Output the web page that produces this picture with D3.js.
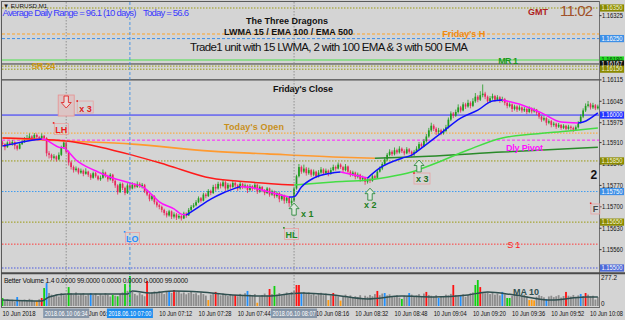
<!DOCTYPE html>
<html><head><meta charset="utf-8">
<script src="https://cdn.jsdelivr.net/npm/d3@7/dist/d3.min.js"></script>
<style>body{margin:0;background:#d4d4d4}svg{display:block}text{font-family:"Liberation Sans",Arial,sans-serif}</style>
</head><body><svg id="c" width="625" height="320"></svg>
<script>
// ---------- DATA ----------
const barOpen = [1.15910,1.15905,1.15895,1.15910,1.15905,1.15912,1.15900,1.15890,1.15905,1.15912,
1.15920,1.15925,1.15930,1.15925,1.15935,1.15928,1.15925,1.15932,1.15925,1.15875,
1.15870,1.15860,1.15865,1.15855,1.15870,1.15895,1.15910,1.15880,1.15845,1.15830,
1.15820,1.15825,1.15812,1.15818,1.15808,1.15815,1.15805,1.15795,1.15810,1.15800,
1.15790,1.15795,1.15812,1.15800,1.15790,1.15805,1.15785,1.15770,1.15748,1.15775,
1.15762,1.15745,1.15770,1.15760,1.15772,1.15765,1.15775,1.15768,1.15772,1.15750,
1.15740,1.15725,1.15735,1.15715,1.15705,1.15700,1.15690,1.15680,1.15672,1.15685,
1.15668,1.15675,1.15665,1.15670,1.15662,1.15678,1.15672,1.15690,1.15700,1.15705,
1.15715,1.15728,1.15720,1.15740,1.15735,1.15752,1.15745,1.15765,1.15760,1.15775,
1.15768,1.15780,1.15760,1.15772,1.15765,1.15778,1.15770,1.15760,1.15775,1.15765,
1.15770,1.15755,1.15768,1.15760,1.15772,1.15750,1.15765,1.15755,1.15745,1.15760,
1.15740,1.15750,1.15735,1.15745,1.15725,1.15738,1.15720,1.15730,1.15712,1.15720,
1.15760,1.15800,1.15830,1.15815,1.15825,1.15810,1.15820,1.15805,1.15815,1.15800,
1.15812,1.15822,1.15810,1.15818,1.15808,1.15820,1.15830,1.15825,1.15838,1.15830,
1.15820,1.15832,1.15815,1.15805,1.15812,1.15798,1.15805,1.15790,1.15795,1.15782,
1.15790,1.15785,1.15800,1.15795,1.15815,1.15825,1.15840,1.15855,1.15870,1.15880,
1.15872,1.15885,1.15878,1.15890,1.15882,1.15875,1.15888,1.15880,1.15872,1.15880,
1.15890,1.15905,1.15898,1.15915,1.15930,1.15950,1.15965,1.15955,1.15945,1.15950,
1.15940,1.15948,1.15960,1.15985,1.16005,1.15998,1.16010,1.16025,1.16015,1.16035,
1.16028,1.16040,1.16030,1.16045,1.16060,1.16050,1.16065,1.16070,1.16060,1.16045,
1.16055,1.16062,1.16050,1.16058,1.16048,1.16052,1.16040,1.16030,1.16035,1.16020,
1.16028,1.16018,1.16025,1.16015,1.16020,1.16010,1.16022,1.16012,1.16018,1.16008,
1.15995,1.15985,1.15990,1.15975,1.15980,1.15968,1.15972,1.15962,1.15968,1.15958,
1.15965,1.15955,1.15962,1.15958,1.15952,1.15960,1.15975,1.15995,1.16015,1.16030,
1.16035,1.16025,1.16032,1.16022];
const barHigh = [1.15915,1.15908,1.15914,1.15916,1.15918,1.15914,1.15903,1.15909,1.15918,1.15928,
1.15935,1.15940,1.15934,1.15941,1.15940,1.15932,1.15940,1.15935,1.15928,1.15882,
1.15874,1.15872,1.15868,1.15878,1.15900,1.15915,1.15912,1.15884,1.15850,1.15835,
1.15832,1.15828,1.15825,1.15822,1.15826,1.15818,1.15810,1.15815,1.15814,1.15804,
1.15802,1.15822,1.15815,1.15805,1.15810,1.15808,1.15790,1.15774,1.15780,1.15779,
1.15766,1.15777,1.15774,1.15780,1.15778,1.15783,1.15780,1.15778,1.15775,1.15755,
1.15744,1.15740,1.15738,1.15720,1.15710,1.15704,1.15694,1.15686,1.15690,1.15688,
1.15682,1.15680,1.15676,1.15674,1.15684,1.15682,1.15696,1.15706,1.15712,1.15722,
1.15734,1.15732,1.15746,1.15745,1.15758,1.15756,1.15772,1.15775,1.15782,1.15780,
1.15788,1.15784,1.15778,1.15776,1.15785,1.15782,1.15774,1.15782,1.15778,1.15776,
1.15773,1.15774,1.15771,1.15778,1.15775,1.15770,1.15768,1.15758,1.15765,1.15763,
1.15756,1.15753,1.15750,1.15748,1.15742,1.15740,1.15735,1.15733,1.15730,1.15765,
1.15805,1.15840,1.15835,1.15838,1.15830,1.15828,1.15824,1.15822,1.15818,1.15820,
1.15830,1.15826,1.15825,1.15822,1.15828,1.15838,1.15835,1.15845,1.15842,1.15834,
1.15840,1.15835,1.15820,1.15818,1.15815,1.15812,1.15808,1.15802,1.15798,1.15796,
1.15795,1.15806,1.15805,1.15820,1.15832,1.15846,1.15862,1.15876,1.15888,1.15885,
1.15894,1.15890,1.15898,1.15894,1.15888,1.15895,1.15892,1.15884,1.15886,1.15898,
1.15912,1.15910,1.15922,1.15938,1.15958,1.15975,1.15970,1.15960,1.15958,1.15955,
1.15956,1.15968,1.15992,1.16012,1.16010,1.16018,1.16035,1.16030,1.16042,1.16040,
1.16050,1.16045,1.16055,1.16072,1.16065,1.16078,1.16100,1.16076,1.16064,1.16062,
1.16070,1.16066,1.16065,1.16062,1.16060,1.16056,1.16044,1.16042,1.16038,1.16034,
1.16032,1.16032,1.16028,1.16026,1.16024,1.16028,1.16025,1.16024,1.16020,1.16010,
1.15998,1.15996,1.15993,1.15986,1.15984,1.15978,1.15975,1.15974,1.15970,1.15970,
1.15968,1.15968,1.15966,1.15962,1.15966,1.15980,1.16002,1.16022,1.16038,1.16046,
1.16040,1.16040,1.16036,1.16034];
const barLow = [1.15898,1.15885,1.15893,1.15902,1.15900,1.15888,1.15884,1.15888,1.15902,1.15909,
1.15916,1.15922,1.15918,1.15922,1.15924,1.15918,1.15921,1.15918,1.15865,1.15858,
1.15852,1.15855,1.15848,1.15852,1.15866,1.15890,1.15874,1.15835,1.15822,1.15812,
1.15815,1.15806,1.15808,1.15800,1.15805,1.15798,1.15788,1.15792,1.15795,1.15786,
1.15785,1.15792,1.15795,1.15782,1.15786,1.15778,1.15762,1.15740,1.15745,1.15755,
1.15738,1.15742,1.15752,1.15757,1.15760,1.15762,1.15762,1.15760,1.15745,1.15735,
1.15718,1.15720,1.15708,1.15698,1.15692,1.15682,1.15672,1.15665,1.15668,1.15660,
1.15662,1.15657,1.15660,1.15655,1.15660,1.15664,1.15670,1.15686,1.15696,1.15702,
1.15712,1.15714,1.15718,1.15728,1.15732,1.15738,1.15742,1.15752,1.15756,1.15760,
1.15764,1.15752,1.15755,1.15758,1.15762,1.15762,1.15752,1.15756,1.15758,1.15760,
1.15745,1.15750,1.15752,1.15756,1.15742,1.15746,1.15748,1.15738,1.15742,1.15733,
1.15736,1.15728,1.15730,1.15715,1.15720,1.15710,1.15712,1.15700,1.15705,1.15716,
1.15756,1.15796,1.15808,1.15810,1.15802,1.15805,1.15798,1.15800,1.15794,1.15796,
1.15808,1.15804,1.15806,1.15800,1.15805,1.15816,1.15818,1.15822,1.15824,1.15814,
1.15816,1.15808,1.15798,1.15800,1.15790,1.15793,1.15782,1.15784,1.15772,1.15776,
1.15778,1.15782,1.15788,1.15792,1.15812,1.15820,1.15836,1.15850,1.15865,1.15866,
1.15868,1.15872,1.15874,1.15876,1.15868,1.15872,1.15874,1.15862,1.15866,1.15876,
1.15886,1.15892,1.15895,1.15910,1.15926,1.15945,1.15948,1.15935,1.15938,1.15934,
1.15936,1.15944,1.15956,1.15980,1.15990,1.15994,1.16005,1.16008,1.16012,1.16020,
1.16024,1.16022,1.16026,1.16040,1.16042,1.16046,1.16058,1.16052,1.16036,1.16040,
1.16050,1.16044,1.16046,1.16040,1.16042,1.16032,1.16022,1.16025,1.16010,1.16015,
1.16010,1.16014,1.16008,1.16010,1.16003,1.16006,1.16005,1.16008,1.16000,1.15988,
1.15978,1.15980,1.15966,1.15970,1.15960,1.15962,1.15955,1.15958,1.15952,1.15954,
1.15950,1.15952,1.15951,1.15945,1.15948,1.15956,1.15972,1.15990,1.16010,1.16025,
1.16018,1.16020,1.16016,1.16018];
const barClose = [1.15905,1.15895,1.15910,1.15905,1.15912,1.15900,1.15890,1.15905,1.15912,1.15920,
1.15925,1.15930,1.15925,1.15935,1.15928,1.15925,1.15932,1.15925,1.15875,1.15870,
1.15860,1.15865,1.15855,1.15870,1.15895,1.15910,1.15880,1.15845,1.15830,1.15820,
1.15825,1.15812,1.15818,1.15808,1.15815,1.15805,1.15795,1.15810,1.15800,1.15790,
1.15795,1.15812,1.15800,1.15790,1.15805,1.15785,1.15770,1.15748,1.15775,1.15762,
1.15745,1.15770,1.15760,1.15772,1.15765,1.15775,1.15768,1.15772,1.15750,1.15740,
1.15725,1.15735,1.15715,1.15705,1.15700,1.15690,1.15680,1.15672,1.15685,1.15668,
1.15675,1.15665,1.15670,1.15662,1.15678,1.15672,1.15690,1.15700,1.15705,1.15715,
1.15728,1.15720,1.15740,1.15735,1.15752,1.15745,1.15765,1.15760,1.15775,1.15768,
1.15780,1.15760,1.15772,1.15765,1.15778,1.15770,1.15760,1.15775,1.15765,1.15770,
1.15755,1.15768,1.15760,1.15772,1.15750,1.15765,1.15755,1.15745,1.15760,1.15740,
1.15750,1.15735,1.15745,1.15725,1.15738,1.15720,1.15730,1.15712,1.15720,1.15760,
1.15800,1.15830,1.15815,1.15825,1.15810,1.15820,1.15805,1.15815,1.15800,1.15812,
1.15822,1.15810,1.15818,1.15808,1.15820,1.15830,1.15825,1.15838,1.15830,1.15820,
1.15832,1.15815,1.15805,1.15812,1.15798,1.15805,1.15790,1.15795,1.15782,1.15790,
1.15785,1.15800,1.15795,1.15815,1.15825,1.15840,1.15855,1.15870,1.15880,1.15872,
1.15885,1.15878,1.15890,1.15882,1.15875,1.15888,1.15880,1.15872,1.15880,1.15890,
1.15905,1.15898,1.15915,1.15930,1.15950,1.15965,1.15955,1.15945,1.15950,1.15940,
1.15948,1.15960,1.15985,1.16005,1.15998,1.16010,1.16025,1.16015,1.16035,1.16028,
1.16040,1.16030,1.16045,1.16060,1.16050,1.16065,1.16070,1.16060,1.16045,1.16055,
1.16062,1.16050,1.16058,1.16048,1.16052,1.16040,1.16030,1.16035,1.16020,1.16028,
1.16018,1.16025,1.16015,1.16020,1.16010,1.16022,1.16012,1.16018,1.16008,1.15995,
1.15985,1.15990,1.15975,1.15980,1.15968,1.15972,1.15962,1.15968,1.15958,1.15965,
1.15955,1.15962,1.15958,1.15952,1.15960,1.15975,1.15995,1.16015,1.16030,1.16035,
1.16025,1.16032,1.16022,1.16028];

const volume = [74,50,62,45,58,40,83,55,48,60,52,66,58,44,45,62,
74,166,212,120,
105,96,110,88,120,100,115,175,118,105,
126,98,112,120,95,108,120,102,115,92,
110,98,120,105,88,102,95,90,112,125,
203,140,277.2,130,112,98,120,105,90,231,
118,128,135,120,138,125,110,132,139,120,
148,128,135,115,125,108,120,130,112,118,
100,125,110,96,55,105,118,130,110,98,
115,105,92,108,100,102,90,112,95,118,
139,105,96,110,30,88,102,115,95,157,
110,185,105,120,98,112,125,108,130,140,
194,194,120,130,112,125,105,118,96,110,
122,100,115,55,98,120,95,88,50,92,
105,80,98,75,90,82,100,70,95,85,
102,90,110,139,100,115,120,98,108,92,
85,100,78,65,95,88,120,105,92,98,
110,90,115,130,102,95,88,100,74,92,
85,105,98,112,194,102,90,92,108,85,
100,118,125,194,240,175,130,118,125,110,
122,105,115,98,130,108,74,74,95,110,
102,88,96,105,90,55,58,52,85,100,
92,80,65,88,95,82,90,100,78,92,
130,95,88,102,85,98,111,92,120,105,
88,95,60,82];
const volRedBars = [16,59,70,87,95,109,120,121,135,153,173,184,195,230,238];
const volBlueBars = [6,18,36,68,100,122,156,166,178,187,204,222,236];
const volGreenBars = [0,17,27,45,47,50,52,111,163,193,194,206,207];
const volOrangeBars = [14,84,104,133,138,215,216,217];
const volMaBars = [0,16,19,26,40,51,53,60,70,81,94,108,122,135,149,163,176,190,198,209,224,238,243];
const volMaValues = [55,46,83,111,111,111,139,120,139,129,102,92,120,102,65,92,83,102,129,102,55,83,83];

const lwmaBars = [0,4,8,12,16,18,20,23,25,27,30,33,39,45,52,58,61,64,70,73,75,80,85,90,97,101,109,117,119,122,127,134,138,149,154,163,167,171,179,187,194,200,204,212,220,228,235,237,243];
const lwmaValues = [1.15899,1.15905,1.15912,1.15918,1.15922,1.15918,1.15908,1.15895,1.15893,1.15879,
1.15853,1.15837,1.15814,1.15794,1.15778,1.15761,1.15739,1.15716,1.15693,1.15676,
1.15673,1.15699,1.15725,1.15745,1.15766,1.15764,1.15748,1.15732,1.15733,1.15765,
1.15794,1.15810,1.15814,1.15794,1.15827,1.15859,1.15869,1.15892,1.15941,1.15990,
1.16016,1.16046,1.16049,1.16033,1.16007,1.15977,1.15974,1.15977,1.16007];
const ema100Bars = [0,26,40,53,67,85,101,119,135,149,157,167,176,190,204,217,231,243];
const ema100Values = [1.15925,1.15915,1.15895,1.15869,1.15837,1.15794,1.15781,1.15771,1.15781,1.15788,1.15797,1.15814,1.15840,1.15886,1.15925,1.15938,1.15948,1.15958];
const ema500Bars = [0,26,53,85,108,135,152,167,204,243];
const ema500Values = [1.15925,1.15915,1.15905,1.15882,1.15873,1.15863,1.15859,1.15863,1.15879,1.15895];

const levelNames = ["Top","Friday's H","Blue 1.16250","MR 1","Line 1.16167","SR-24","Olive 1.16150","Friday's Close","Blue 1.16000","Today's Open","Dly Pivot","Olive 1.15850","Blue 1.15750","Olive 1.15650","S 1","Blue 1.15500"];
const levelPrices = [1.16350,1.16265,1.16250,1.16180,1.16167,1.16160,1.16150,1.16115,1.16000,1.15941,1.15918,1.15850,1.15750,1.15650,1.15578,1.15500];

const priceTicks = [1.16325,1.16115,1.16045,1.15975,1.15910,1.15840,1.15770,1.15700,1.15630,1.15560];
const priceBoxes = [1.16350,1.16250,1.16180,1.16167,1.16150,1.16000,1.15850,1.15750,1.15650,1.15500];

const timeLabelBars = [0,32,64,80,96,128,144,160,176,192,208,224,240];
const timeLabels = ["10 Jun 2018","10 Jun 06:40","10 Jun 07:12","10 Jun 07:28","10 Jun 07:44","10 Jun 08:16","10 Jun 08:32","10 Jun 08:48","10 Jun 09:04","10 Jun 09:20","10 Jun 09:36","10 Jun 09:52","10 Jun 10:08"];
const vLineBars = [26,52,119];
const vLineLabels = ["2018.06.10 06:34","2018.06.10 07:00","2018.06.10 08:07"];

const signalBars = [26,119,150,170];
const signalPrices = [1.16023,1.15712,1.15761,1.15853];
const signalTexts = ["x 3","x 1","x 2","x 3"];
const swingTexts = ["LH","LO","HL"];
const swingBars = [24,53,118];
const swingPrices = [1.15954,1.15598,1.15611];

// ---------- SCALES ----------
const svg = d3.select("#c");
const x = d3.scaleLinear().domain([0,243]).range([2.5, 2.5+243*2.45]);
const y = d3.scaleLinear().domain([1.15500,1.16350]).range([268,8]);
const yv = d3.scaleLinear().domain([0,277.2]).range([306,276]);
const fmt = d3.format(".5f");

svg.append("rect").attr("width",625).attr("height",320).attr("fill","#d4d4d4");
const defs = svg.append("defs");
defs.append("clipPath").attr("id","cm").append("rect").attr("x",2).attr("y",2).attr("width",597).attr("height",270);
defs.append("clipPath").attr("id","cv").append("rect").attr("x",2).attr("y",274.5).attr("width",597).attr("height",33);

const gm = svg.append("g").attr("clip-path","url(#cm)");
const gv = svg.append("g").attr("clip-path","url(#cv)");

// vertical object lines
const vStyle = [{c:"#8a8a8a",d:"1.5,1.5"},{c:"#3d8fe6",d:"3,2"},{c:"#8a8a8a",d:"1.5,1.5"}];
vLineBars.forEach((b,i)=>{
  svg.append("line").attr("x1",x(b)).attr("x2",x(b)).attr("y1",2).attr("y2",307)
    .attr("stroke",vStyle[i].c).attr("stroke-dasharray",vStyle[i].d).attr("stroke-width",0.9);
});

// horizontal levels
const olive = {c:"#9a9a10",d:"1.5,1.5",w:1};
const lvlStyle = {
  "Top":olive,
  "Friday's H":{c:"#ffa326",d:"3,2",w:1},
  "Blue 1.16250":{c:"#3d8fe6",d:"3,2",w:1},
  "MR 1":{c:"#78dc78",d:null,w:1.6},
  "Line 1.16167":{c:"#3a3a3a",d:null,w:1},
  "SR-24":olive,
  "Olive 1.16150":olive,
  "Friday's Close":{c:"#2a2a2a",d:null,w:1},
  "Blue 1.16000":{c:"#2b2bff",d:null,w:1},
  "Today's Open":{c:"#ffa326",d:"1.5,1.5",w:1},
  "Dly Pivot":{c:"#ff20ff",d:"3,2",w:1},
  "Olive 1.15850":olive,
  "Blue 1.15750":{c:"#3d9cf0",d:"1.5,1.5",w:1},
  "Olive 1.15650":olive,
  "S 1":{c:"#ff3a3a",d:"1.5,1.5",w:1},
  "Blue 1.15500":{c:"#4a5ae0",d:"1.5,1.5",w:1}
};
levelNames.forEach((n,i)=>{
  const s = lvlStyle[n];
  gm.append("line").attr("x1",2).attr("x2",599).attr("y1",y(levelPrices[i])).attr("y2",y(levelPrices[i]))
    .attr("stroke",s.c).attr("stroke-width",s.w).attr("stroke-dasharray",s.d);
});

// candles
const cg = gm.append("g");
barClose.forEach((c,i)=>{
  const o = barOpen[i], up = c >= o;
  const col = up ? "#1f9c1f" : "#e8285c";
  cg.append("line").attr("x1",x(i)).attr("x2",x(i)).attr("y1",y(barHigh[i])).attr("y2",y(barLow[i]))
    .attr("stroke",col).attr("stroke-width",0.8);
  const top = y(Math.max(o,c)), bot = y(Math.min(o,c));
  cg.append("rect").attr("x",x(i)-0.85).attr("width",1.7).attr("y",top).attr("height",Math.max(0.8,bot-top)).attr("fill",col);
});

// moving averages coloured by direction
function colouredLine(g, bars, vals, upC, dnC, w, ys){
  const runs=[]; let cur=null;
  for(let i=0;i<bars.length-1;i++){
    const c = vals[i+1] >= vals[i] ? upC : dnC;
    if(!cur || cur.c!==c){cur={c:c,p:[[bars[i],vals[i]]]};runs.push(cur);}
    cur.p.push([bars[i+1],vals[i+1]]);
  }
  const ln = d3.line().x(d=>x(d[0])).y(d=>ys(d[1])).curve(d3.curveMonotoneX);
  runs.forEach(r=>g.append("path").attr("d",ln(r.p)).attr("fill","none").attr("stroke",r.c).attr("stroke-width",w).attr("stroke-linejoin","round"));
}
colouredLine(gm, ema500Bars, ema500Values, "#2a8a2a", "#ff9a30", 1.6, y);
colouredLine(gm, ema100Bars, ema100Values, "#44dd44", "#ff1a1a", 1.5, y);
colouredLine(gm, lwmaBars, lwmaValues, "#1010ff", "#ff10ff", 1.5, y);

// volume
const vColor = volume.map(()=> "#8c8c8c");
volRedBars.forEach(b=>vColor[b]="#ff1010");
volBlueBars.forEach(b=>vColor[b]="#2090ff");
volGreenBars.forEach(b=>vColor[b]="#10d010");
volOrangeBars.forEach(b=>vColor[b]="#ff9a10");
volume.forEach((v,i)=>{
  gv.append("rect").attr("x",x(i)-0.9).attr("width",1.8).attr("y",yv(v)).attr("height",yv(0)-yv(v)).attr("fill",vColor[i]);
});
gv.append("path").attr("d",d3.line().x((d,i)=>x(volMaBars[i])).y(d=>yv(d)).curve(d3.curveMonotoneX)(volMaValues))
  .attr("fill","none").attr("stroke","#2f4f4f").attr("stroke-width",1.5);

// frame
const fr = svg.append("g").attr("stroke","#5a5a5a").attr("fill","none");
fr.append("line").attr("x1",1.5).attr("x2",1.5).attr("y1",1).attr("y2",308);
fr.append("line").attr("x1",1).attr("x2",599.5).attr("y1",1.5).attr("y2",1.5);
fr.append("line").attr("x1",599.5).attr("x2",599.5).attr("y1",1).attr("y2",308).attr("stroke","#707070");
fr.append("line").attr("x1",1).attr("x2",625).attr("y1",273.2).attr("y2",273.2).attr("stroke","#4a4a4a").attr("stroke-width",2);
fr.append("line").attr("x1",1).attr("x2",599.5).attr("y1",307.5).attr("y2",307.5).attr("stroke","#6a6a6a");

// price axis labels
const ax = svg.append("g").attr("font-size",6.4);
priceTicks.forEach(p=>{
  ax.append("line").attr("x1",599.5).attr("x2",601.5).attr("y1",y(p)).attr("y2",y(p)).attr("stroke","#333");
  ax.append("text").attr("x",602).attr("y",y(p)+2.3).attr("fill","#111").attr("textLength",21).attr("lengthAdjust","spacingAndGlyphs").text(fmt(p));
});
const boxFill = ["#8a8a00","#3d8fe6","#22dd22","#111111","#8a8a00","#2233ff","#8a8a00","#3d8fe6","#8a8a00","#4d6ad8"];
const boxText = ["#f4f4d8","#ffffff","#103010","#ffffff","#f4f4d8","#ffffff","#f4f4d8","#ffffff","#f4f4d8","#ffffff"];
priceBoxes.forEach((p,i)=>{
  ax.append("rect").attr("x",600).attr("y",y(p)-3.6).attr("width",24).attr("height",7.2).attr("fill",boxFill[i]);
  ax.append("text").attr("x",601.5).attr("y",y(p)+2.3).attr("fill",boxText[i]).attr("textLength",21).attr("lengthAdjust","spacingAndGlyphs").text(fmt(p));
});
ax.append("text").attr("x",601).attr("y",280).attr("fill","#111").text("277.2");
ax.append("text").attr("x",601).attr("y",305.5).attr("fill","#111").text("0");

// time axis
const tx = svg.append("g").attr("font-size",6.6).attr("fill","#111");
timeLabelBars.forEach((b,i)=>{
  tx.append("text").attr("x",Math.min(x(b),590)).attr("y",315.5).attr("textLength",33).attr("lengthAdjust","spacingAndGlyphs").text(timeLabels[i]);
});
const vBoxFill = ["#8696a8","#1e8ef0","#8696a8"];
vLineBars.forEach((b,i)=>{
  svg.append("rect").attr("x",x(b)-23).attr("y",308.5).attr("width",46).attr("height",9.5).attr("fill",vBoxFill[i]);
  svg.append("text").attr("x",x(b)-21.5).attr("y",315.5).attr("font-size",6.6).attr("fill","#fff").attr("textLength",43).attr("lengthAdjust","spacingAndGlyphs").text(vLineLabels[i]);
});

// level texts
const T = (g,xp,yp,txt,opt)=>{const t=g.append("text").attr("x",xp).attr("y",yp).text(txt);
  Object.entries(opt||{}).forEach(([k,v])=>t.attr(k,v)); return t;};
const lt = svg.append("g").attr("font-weight","bold").attr("font-size",9);
T(lt, x(179.5), y(levelPrices[1])+3.2, "Friday's H", {fill:"#f08a10",textLength:43});
T(lt, x(202.3), y(levelPrices[3])+4, "MR 1", {fill:"#1c9a1c",textLength:20});
T(lt, x(11.7), y(levelPrices[5])+2.8, "SR-24", {fill:"#d09a10",textLength:24});
T(lt, x(110.4), y(levelPrices[7])+12, "Friday's Close", {fill:"#111",textLength:60});
T(lt, x(90.4), y(levelPrices[9])-3, "Today's Open", {fill:"#c8901c",textLength:60});
T(lt, x(205.5), y(levelPrices[10])+11, "Dly Pivot", {fill:"#ff10ff",textLength:37});
T(svg, x(206), y(levelPrices[14])+3.5, "S 1", {fill:"#ff2020","font-size":9,textLength:13});

// header texts
T(svg, 3, 8, "▼ EURUSD,M1", {"font-size":6.2,fill:"#111"});
T(svg, 2.5, 16, "Average Daily Range = 96.1 (10 days)", {"font-size":9.5,fill:"#3a3aff",textLength:134});
T(svg, 143, 16, "Today = 56.6", {"font-size":9.5,fill:"#3a3aff",textLength:46});
T(svg, 246, 24, "The Three Dragons", {"font-size":9,"font-weight":"bold",fill:"#111",textLength:82});
T(svg, 224, 34.5, "LWMA 15 / EMA 100 / EMA 500", {"font-size":9,"font-weight":"bold",fill:"#111",textLength:129});
T(svg, 190, 50.5, "Trade1 unit with 15 LWMA, 2 with 100 EMA & 3 with 500 EMA", {"font-size":11.5,fill:"#111",textLength:278});
T(svg, 528, 14.5, "GMT", {"font-size":9,"font-weight":"bold",fill:"#b02020",textLength:20});
T(svg, 560, 16, "11:02", {"font-size":15,fill:"#a0502a",textLength:33});

// signal arrows
const sg = svg.append("g");
function arrow(cx, tip, dir, stroke, fill){
  const s = dir==="up"?1:-1;
  const pts = [[0,0],[5,5.5],[2.2,5.5],[2.2,12],[-2.2,12],[-2.2,5.5],[-5,5.5]].map(p=>[cx+p[0], tip+s*p[1]]);
  sg.append("path").attr("d","M"+pts.map(p=>p.join(",")).join("L")+"Z").attr("fill",fill).attr("stroke",stroke).attr("stroke-width",0.9);
}
const sigLayout = [
  {dx:13,dy:4,c:"#e02020",box:[11,-7,16,12]},
  {dx:7,dy:14,c:"#1f7f1f"},
  {dx:-6,dy:19.5,c:"#1f7f1f"},
  {dx:-3,dy:21.5,c:"#1f6f1f",box:[-5,13,16,11]}
];
signalBars.forEach((b,i)=>{
  const cx = x(b), tip = y(signalPrices[i]), L = sigLayout[i];
  if(i===0){
    sg.append("rect").attr("x",cx-8).attr("y",tip-13).attr("width",16).attr("height",21).attr("fill","#dcc4c4").attr("stroke","#e89090").attr("stroke-width",0.8);
    arrow(cx, tip, "down", "#e02828", "#ecd8d8");
  } else {
    arrow(cx, tip, "up", "#2e8b3e", "#dde6dd");
  }
  if(L.box){
    sg.append("rect").attr("x",cx+L.box[0]).attr("y",tip+L.box[1]).attr("width",L.box[2]).attr("height",L.box[3]).attr("fill","none").attr("stroke","#e8a0a0").attr("stroke-width",0.8);
    sg.append("rect").attr("x",cx+L.box[0]-0.8).attr("y",tip+L.box[1]-0.8).attr("width",1.6).attr("height",1.6).attr("fill","#e02020");
  }
  T(sg, cx+L.dx, tip+L.dy, signalTexts[i], {"font-size":9,"font-weight":"bold",fill:L.c});
});

// swing labels
const swCol = ["#ee1a1a","#2a8fff","#1f8a1f"];
swingTexts.forEach((t,i)=>{
  const cx = x(swingBars[i]), cy = y(swingPrices[i]);
  sg.append("rect").attr("x",cx-7).attr("y",cy-5.5).attr("width",14).attr("height",11).attr("fill","none").attr("stroke","#eaa0a0").attr("stroke-width",0.8);
  sg.append("rect").attr("x",cx-8.5).attr("y",cy-7).attr("width",1.6).attr("height",1.6).attr("fill",swCol[i]);
  T(sg, cx, cy+3.5, t, {"font-size":9,"font-weight":"bold",fill:swCol[i],"text-anchor":"middle"});
});

// right edge markers
T(svg, x(242)-1.5, y(1.15807)+4.5, "2", {"font-size":12,"font-weight":"bold",fill:"#111","text-anchor":"middle"});
sg.append("rect").attr("x",x(242)-4.5).attr("y",y(1.15693)-5).attr("width",9).attr("height",10).attr("fill","none").attr("stroke","#eaa0a0").attr("stroke-width",0.8);
sg.append("rect").attr("x",x(242)-5.5).attr("y",y(1.15693)-6.5).attr("width",1.5).attr("height",1.5).attr("fill","#e02020");
T(svg, x(242), y(1.15693)+3.5, "F", {"font-size":9,"font-weight":"bold",fill:"#444","text-anchor":"middle"});

// volume texts
T(svg, 4, 283, "Better Volume 1.4 0.0000 99.0000 0.0000 0.0000 0.0000 99.0000", {"font-size":6.8,fill:"#111",textLength:184});
T(svg, 513, 294.5, "MA 10", {"font-size":9,"font-weight":"bold",fill:"#2f4f4f",textLength:26});
</script></body></html>
